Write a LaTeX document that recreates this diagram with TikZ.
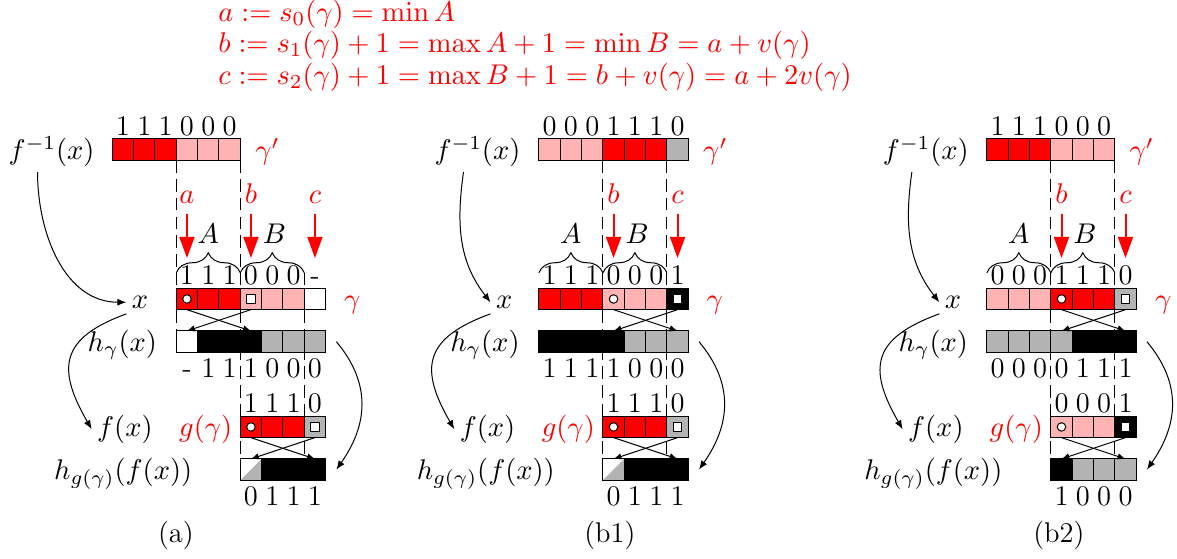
\RequirePackage{fix-cm}
\documentclass[tikz,border=0pt]{standalone}
\usepackage{amsmath}
\usetikzlibrary{arrows.meta,decorations.pathreplacing}
\definecolor{hbR}{HTML}{FF0000}
\definecolor{hbP}{HTML}{FFB3B3}
\definecolor{hbG}{HTML}{B3B3B3}
\tikzset{cell/.style={draw,line width=0.4pt,minimum size=0.3cm,inner sep=0pt,outer sep=0pt},
 bit/.style={anchor=base,inner sep=0pt},
 rowlab/.style={anchor=base,inner sep=2pt},
 redlab/.style={rowlab,text=hbR},
 ptlab/.style={anchor=base,inner xsep=0pt,inner ysep=4pt,text=hbR},
 formula/.style={anchor=base west,inner sep=0pt,text=hbR},
 ptarr/.style={-{Triangle[length=8.5pt,width=6pt]},thick,draw=hbR},
 crossarr/.style={-{Latex[length=3.2pt,width=2.6pt]},line width=0.4pt},
 maparr/.style={-{Latex[length=3.6pt,width=2.8pt]},line width=0.4pt},
 cutline/.style={dash pattern=on 5pt off 2.5pt,line width=0.4pt},
 setbrace/.style={decorate,decoration={brace,amplitude=8pt},line width=0.4pt},
 dotmark/.style={circle,draw,fill=white,minimum size=3.4pt,inner sep=0pt},
 sqmark/.style={draw,fill=white,minimum size=3.4pt,inner sep=0pt}}
% one row of cells: name, left end, bottom, colours
\newcommand{\cellrow}[4]{\foreach \col [count=\i from 0] in {#4}
 {\node[cell,fill=\col] (#1\i) at ({#2+\i+0.5},{#3+0.5}) {};}}
% bits over the cells: left end, baseline, bits
\newcommand{\bitrow}[3]{\foreach \bv [count=\i from 0] in {#3}
 {\node[bit] at ({#1+\i+0.5},#2) {\bv};}}
\newcommand{\splitcell}[1]{\fill[hbG] (#1.south west) -- (#1.south east) -- (#1.north east) -- cycle;
 \draw[line width=0.4pt] (#1.south west) rectangle (#1.north east);}
\begin{document}
\begin{tikzpicture}[x=0.3cm,y=0.3cm,font=\fontsize{11.4pt}{13.7pt}\selectfont]
\useasboundingbox (-8.265,-12.644) rectangle (46.915,13.516);
\node[formula] (defa) at (1.95,12.5) {$a := s_0(\gamma) = \min A$};
\node[formula] (defb) at (1.95,11.05) {$b := s_1(\gamma)+1 = \max A+1 = \min B = a+v(\gamma)$};
\node[formula] (defc) at (1.95,9.56) {$c := s_2(\gamma)+1 = \max B+1 = b+v(\gamma) = a+2v(\gamma)$};

% ---------- (a)
\draw[cutline] (0,6) -- (0,-2);
\draw[cutline] (3,6) -- (3,-8);
\draw[cutline] (6,0.73) -- (6,-8);
\cellrow{pagp}{-3}{6}{hbR,hbR,hbR,hbP,hbP,hbP}
\bitrow{-3}{7.17}{1,1,1,0,0,0}
\cellrow{pax}{0}{-1}{hbR,hbR,hbR,hbP,hbP,hbP,white}
\bitrow{0}{0.17}{1,1,1,0,0,0,-}
\cellrow{pah}{0}{-3}{white,black,black,black,hbG,hbG,hbG}
\bitrow{0}{-4.2}{-,1,1,1,0,0,0}
\cellrow{pag}{3}{-7}{hbR,hbR,hbR,hbG}
\bitrow{3}{-5.83}{1,1,1,0}
\cellrow{pahg}{3}{-9}{white,black,black,black}
\splitcell{pahg0}
\bitrow{3}{-10.18}{0,1,1,1}
\node[dotmark] at (pax0) {};
\node[sqmark] at (pax3) {};
\node[dotmark] at (pag0) {};
\node[sqmark] at (pag3) {};
\draw[crossarr] (pax0.south) -- (pah3.north);
\draw[crossarr] (pax3.south) -- (pah0.north);
\draw[crossarr] (pag0.south) -- (pahg3.north);
\draw[crossarr] (pag3.south) -- (pahg0.north);
\node[ptlab] (paa) at (0.5,3.97) {$a$};
\node[ptlab] (pab) at (3.5,3.97) {$b$};
\node[ptlab] (pac) at (6.5,3.97) {$c$};
\coordinate (paat) at (0.5,1.42);
\coordinate (pabt) at (3.5,1.42);
\coordinate (pact) at (6.5,1.42);
\draw[ptarr] (paa.south) -- (paat);
\draw[ptarr] (pab.south) -- (pabt);
\draw[ptarr] (pac.south) -- (pact);
\draw[setbrace] (0,0.73) -- (3,0.73);
\draw[setbrace] (3,0.73) -- (6,0.73);
\node[bit] at (1.5,2.08) {$A$};
\node[bit] at (4.6,2.08) {$B$};
\node[rowlab] (pafinv) at (-5.85,6.04) {$f^{-1}(x)$};
\node[redlab] at (4.27,6.04) {$\gamma'$};
\node[rowlab] (paxl) at (-1.7,-0.94) {$x$};
\node[redlab] at (8.25,-0.94) {$\gamma$};
\node[rowlab] (pahl) at (-2.53,-2.96) {$h_\gamma(x)$};
\node[rowlab] (pafl) at (-2.41,-6.94) {$f(x)$};
\node[redlab] at (1.38,-6.94) {$g(\gamma)$};
\node[rowlab] (pahgl) at (-2.49,-8.97) {$h_{g(\gamma)}(f(x))$};
\draw[maparr] ([xshift=-5.6pt]pafinv.south) to[out=-90,in=180] (paxl.west);
\draw[maparr] (paxl.south west) to[out=200,in=120,looseness=1.5] (pafl.west);
\draw[maparr] ([xshift=4.3pt]pah6.east) to[out=-50,in=55,looseness=1.1] ([xshift=4.3pt]pahg3.east);
\node[rowlab] (pacap) at (-0.02,-11.94) {(a)};

% ---------- (b1)
\draw[cutline] (20,6) -- (20,-8);
\draw[cutline] (23,6) -- (23,-8);
\cellrow{pbgp}{17}{6}{hbP,hbP,hbP,hbR,hbR,hbR,hbG}
\bitrow{17}{7.17}{0,0,0,1,1,1,0}
\cellrow{pbx}{17}{-1}{hbR,hbR,hbR,hbP,hbP,hbP,black}
\bitrow{17}{0.17}{1,1,1,0,0,0,1}
\cellrow{pbh}{17}{-3}{black,black,black,black,hbG,hbG,hbG}
\bitrow{17}{-4.2}{1,1,1,1,0,0,0}
\cellrow{pbg}{20}{-7}{hbR,hbR,hbR,hbG}
\bitrow{20}{-5.83}{1,1,1,0}
\cellrow{pbhg}{20}{-9}{white,black,black,black}
\splitcell{pbhg0}
\bitrow{20}{-10.18}{0,1,1,1}
\node[dotmark] at (pbx3) {};
\node[sqmark] at (pbx6) {};
\node[dotmark] at (pbg0) {};
\node[sqmark] at (pbg3) {};
\draw[crossarr] (pbx3.south) -- (pbh6.north);
\draw[crossarr] (pbx6.south) -- (pbh3.north);
\draw[crossarr] (pbg0.south) -- (pbhg3.north);
\draw[crossarr] (pbg3.south) -- (pbhg0.north);
\node[ptlab] (pbb) at (20.5,3.97) {$b$};
\node[ptlab] (pbc) at (23.5,3.97) {$c$};
\coordinate (pbbt) at (20.5,1.42);
\coordinate (pbct) at (23.5,1.42);
\draw[ptarr] (pbb.south) -- (pbbt);
\draw[ptarr] (pbc.south) -- (pbct);
\draw[setbrace] (17,0.73) -- (20,0.73);
\draw[setbrace] (20,0.73) -- (23,0.73);
\node[bit] at (18.5,2.08) {$A$};
\node[bit] at (21.6,2.08) {$B$};
\node[rowlab] (pbfinv) at (14.12,6.04) {$f^{-1}(x)$};
\node[redlab] at (25.27,6.04) {$\gamma'$};
\node[rowlab] (pbxl) at (15.37,-0.94) {$x$};
\node[redlab] at (25.25,-0.94) {$\gamma$};
\node[rowlab] (pbhl) at (14.47,-2.96) {$h_\gamma(x)$};
\node[rowlab] (pbfl) at (14.59,-6.94) {$f(x)$};
\node[redlab] at (18.38,-6.94) {$g(\gamma)$};
\node[rowlab] (pbhgl) at (14.51,-8.97) {$h_{g(\gamma)}(f(x))$};
\draw[maparr] ([xshift=-5.6pt]pbfinv.south) to[out=262,in=128] (pbxl.west);
\draw[maparr] (pbxl.south west) to[out=200,in=120,looseness=1.5] (pbfl.west);
\draw[maparr] ([xshift=4.3pt]pbh6.east) to[out=-50,in=55,looseness=1.1] ([xshift=4.3pt]pbhg3.east);
\node[rowlab] (pbcap) at (20.33,-11.94) {(b1)};

% ---------- (b2)
\draw[cutline] (41,6) -- (41,-8);
\draw[cutline] (44,6) -- (44,-8);
\cellrow{pcgp}{38}{6}{hbR,hbR,hbR,hbP,hbP,hbP}
\bitrow{38}{7.17}{1,1,1,0,0,0}
\cellrow{pcx}{38}{-1}{hbP,hbP,hbP,hbR,hbR,hbR,hbG}
\bitrow{38}{0.17}{0,0,0,1,1,1,0}
\cellrow{pch}{38}{-3}{hbG,hbG,hbG,hbG,black,black,black}
\bitrow{38}{-4.2}{0,0,0,0,1,1,1}
\cellrow{pcg}{41}{-7}{hbP,hbP,hbP,black}
\bitrow{41}{-5.83}{0,0,0,1}
\cellrow{pchg}{41}{-9}{black,hbG,hbG,hbG}
\bitrow{41}{-10.18}{1,0,0,0}
\node[dotmark] at (pcx3) {};
\node[sqmark] at (pcx6) {};
\node[dotmark] at (pcg0) {};
\node[sqmark] at (pcg3) {};
\draw[crossarr] (pcx3.south) -- (pch6.north);
\draw[crossarr] (pcx6.south) -- (pch3.north);
\draw[crossarr] (pcg0.south) -- (pchg3.north);
\draw[crossarr] (pcg3.south) -- (pchg0.north);
\node[ptlab] (pcb) at (41.5,3.97) {$b$};
\node[ptlab] (pcc) at (44.5,3.97) {$c$};
\coordinate (pcbt) at (41.5,1.42);
\coordinate (pcct) at (44.5,1.42);
\draw[ptarr] (pcb.south) -- (pcbt);
\draw[ptarr] (pcc.south) -- (pcct);
\draw[setbrace] (38,0.73) -- (41,0.73);
\draw[setbrace] (41,0.73) -- (44,0.73);
\node[bit] at (39.5,2.08) {$A$};
\node[bit] at (42.6,2.08) {$B$};
\node[rowlab] (pcfinv) at (35.14,6.04) {$f^{-1}(x)$};
\node[redlab] at (45.26,6.04) {$\gamma'$};
\node[rowlab] (pcxl) at (36.41,-0.94) {$x$};
\node[redlab] at (46.27,-0.94) {$\gamma$};
\node[rowlab] (pchl) at (35.49,-2.96) {$h_\gamma(x)$};
\node[rowlab] (pcfl) at (35.61,-6.94) {$f(x)$};
\node[redlab] at (39.38,-6.94) {$g(\gamma)$};
\node[rowlab] (pchgl) at (35.49,-8.97) {$h_{g(\gamma)}(f(x))$};
\draw[maparr] ([xshift=-5.6pt]pcfinv.south) to[out=262,in=128] (pcxl.west);
\draw[maparr] (pcxl.south west) to[out=200,in=120,looseness=1.5] (pcfl.west);
\draw[maparr] ([xshift=4.3pt]pch6.east) to[out=-50,in=55,looseness=1.1] ([xshift=4.3pt]pchg3.east);
\node[rowlab] (pccap) at (41.38,-11.94) {(b2)};
\end{tikzpicture}
\end{document}
